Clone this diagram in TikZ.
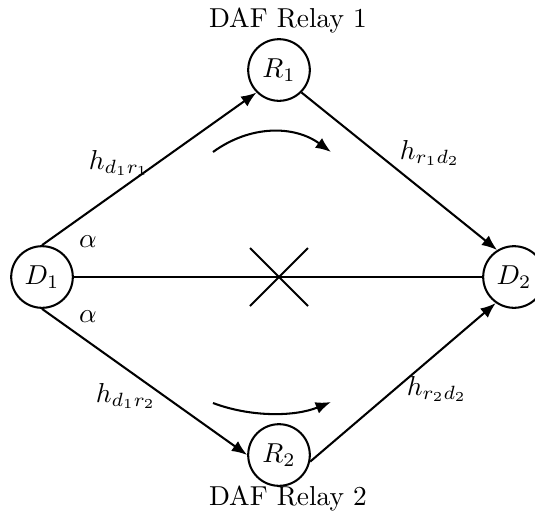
\documentclass[tikz,border=0pt]{standalone}
\usetikzlibrary{arrows.meta}
\begin{document}
\begin{tikzpicture}[x=0.365pt,y=-0.365pt,
  nodec/.style={circle,draw,line width=0.75pt,minimum size=22.5pt,inner sep=0pt},
  conn/.style={line width=0.75pt},
  arr/.style={line width=0.75pt,-{Latex[length=5.6pt,width=4.4pt]}},
  lbl/.style={inner sep=0pt}]
\useasboundingbox (0,0) rectangle (535,521);
\node[nodec] (D1) at (42,277) {$D_1$};
\node[nodec] (R1) at (279,70) {$R_1$};
\node[nodec] (R2) at (279,455) {$R_2$};
\node[nodec] (D2) at (514,277) {$D_2$};
\node[lbl] (t1) at (288,20) {DAF Relay 1};
\node[lbl] (t2) at (288,498) {DAF Relay 2};
\draw[arr] (D1.north) -- (R1.south west);
\draw[arr] (R1.south east) -- (D2.122);
\draw[conn] (D1) -- (D2);
\draw[arr] (D1.south) -- (R2.west);
\draw[arr] (R2.-12) -- (D2.235);
% cross
\coordinate (c1) at (250,248);
\coordinate (c2) at (308,306);
\coordinate (c3) at (250,306);
\coordinate (c4) at (308,248);
\draw[conn] (c1) -- (c2);
\draw[conn] (c3) -- (c4);
% curved arrows
\coordinate (a1) at (213,152);
\coordinate (a2) at (331,152);
\draw[arr] (a1) .. controls (250,125) and (294,125) .. (a2);
\coordinate (b1) at (213,403);
\coordinate (b2) at (331,402);
\draw[arr] (b1) .. controls (250,417) and (294,417) .. (b2);
% labels
\node[lbl] (h1) at (119,163) {$h_{d_1r_1}$};
\node[lbl] (h2) at (430,153) {$h_{r_1d_2}$};
\node[lbl] (h3) at (126,396) {$h_{d_1r_2}$};
\node[lbl] (h4) at (437,389) {$h_{r_2d_2}$};
\node[lbl] (al1) at (88,242) {$\alpha$};
\node[lbl] (al2) at (88,317) {$\alpha$};
\end{tikzpicture}
\end{document}
